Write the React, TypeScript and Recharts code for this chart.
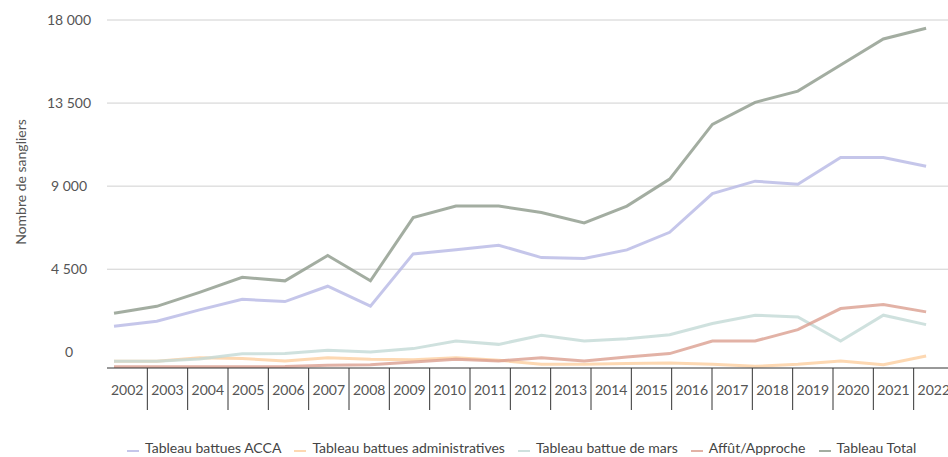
import React from 'react';
import { LineChart, Line, XAxis, YAxis, CartesianGrid } from 'recharts';

const yearLabels = [
  2002, 2003, 2004, 2005, 2006, 2007, 2008, 2009, 2010, 2011, 2012,
  2013, 2014, 2015, 2016, 2017, 2018, 2019, 2020, 2021, 2022,
];
const pointYears = [
  2002, 2003, 2004, 2005, 2006, 2007, 2008, 2009, 2010, 2011,
  2012, 2013, 2014, 2015, 2016, 2017, 2018, 2019, 2020, 2021,
];
const acca = [1410, 1680, 2300, 2870, 2750, 3580, 2500, 5330, 5550, 5800, 5130, 5080, 5550, 6500, 8600, 9270, 9100, 10550, 10550, 10080];
const admin = [-490, -490, -290, -340, -470, -290, -380, -400, -290, -430, -650, -650, -610, -580, -650, -760, -650, -470, -670, -200];
const mars = [-490, -490, -360, -80, -70, 110, 20, 200, 610, 430, 920, 610, 740, 950, 1560, 2010, 1910, 610, 2010, 1500];
const affut = [-780, -780, -780, -780, -770, -700, -670, -520, -380, -470, -290, -470, -250, -70, 610, 610, 1230, 2370, 2590, 2190];
const total = [2110, 2490, 3250, 4060, 3870, 5240, 3870, 7300, 7920, 7920, 7570, 7010, 7920, 9380, 12350, 13540, 14150, 15560, 16970, 17550];
const yTicks = [0, 4500, 9000, 13500, 18000];

const series = [
  { key: 'acca', name: 'Tableau battues ACCA', color: '#b6b8e5' },
  { key: 'admin', name: 'Tableau battues administratives', color: '#fcce9f' },
  { key: 'mars', name: 'Tableau battue de mars', color: '#c3dad6' },
  { key: 'affut', name: 'Affût/Approche', color: '#db9f90' },
  { key: 'total', name: 'Tableau Total', color: '#8c9889' },
];

const data = pointYears.map((year, i) => ({
  year,
  acca: acca[i],
  admin: admin[i],
  mars: mars[i],
  affut: affut[i],
  total: total[i],
}));

const FONT = 'Lato, sans-serif';
const CHART_W = 954;
const Y_AXIS_W = 107;
const CELL = (CHART_W - Y_AXIS_W) / yearLabels.length;

const fmt = (v: number) => v.toLocaleString('fr-FR').replace(/\u202f|\u00a0/g, ' ');

const YTick = (props: any) => {
  const { y, payload } = props;
  return (
    <text x={69} y={y} dy={5} textAnchor="middle" fill="#555" fontSize={14} fontFamily={FONT}>
      {fmt(payload.value)}
    </text>
  );
};

const XTick = (props: any) => {
  const { x, y, payload } = props;
  const first = payload.value === yearLabels[0];
  return (
    <g>
      <text x={x} y={y + 27} textAnchor="middle" fill="#555" fontSize={14} fontFamily={FONT}>
        {payload.value}
      </text>
      {!first && <line x1={x - CELL / 2} x2={x - CELL / 2} y1={y} y2={y + 42} stroke="#333" strokeWidth={1} />}
    </g>
  );
};

export default function App() {
  return (
    <div style={{ position: 'absolute', left: 0, top: 0, width: 948, height: 457, overflow: 'hidden', background: '#fff', fontFamily: FONT }}>
      <LineChart width={CHART_W} height={457} data={data} margin={{ top: 20, right: 0, bottom: 0, left: 0 }}>
        <CartesianGrid vertical={false} horizontalValues={[4500, 9000, 13500, 18000]} stroke="#d0d0d0" />
        <XAxis
          xAxisId="cells"
          type="number"
          dataKey="year"
          domain={[yearLabels[0] - 0.5, yearLabels[yearLabels.length - 1] + 0.5]}
          allowDataOverflow
          ticks={yearLabels}
          interval={0}
          height={89}
          tickLine={false}
          tickSize={0}
          tickMargin={0}
          axisLine={{ stroke: '#333' }}
          tick={<XTick />}
        />
        <XAxis xAxisId="pts" type="number" dataKey="year" domain={[2001.836, 2021.653]} allowDataOverflow hide />
        <YAxis
          width={Y_AXIS_W}
          domain={[-850, 18000]}
          ticks={yTicks}
          allowDataOverflow
          axisLine={false}
          tickLine={false}
          tick={<YTick />}
          label={{
            content: () => (
              <text x={26} y={182} transform="rotate(-90 26 182)" textAnchor="middle" fill="#555" fontSize={14} fontFamily={FONT}>
                Nombre de sangliers
              </text>
            ),
          }}
        />
        {series.map((s) => (
          <Line
            key={s.key}
            xAxisId="pts"
            type="linear"
            dataKey={s.key}
            name={s.name}
            stroke={s.color}
            strokeOpacity={0.8}
            strokeWidth={3}
            dot={false}
            activeDot={false}
            isAnimationActive={false}
          />
        ))}
      </LineChart>
      <div style={{ position: 'absolute', left: 127, top: 439, display: 'flex', alignItems: 'flex-end', whiteSpace: 'nowrap', fontSize: 14, color: '#444', lineHeight: '17px' }}>
        {series.map((s) => (
          <span key={s.key} style={{ display: 'inline-flex', alignItems: 'flex-end', marginRight: 13 }}>
            <span style={{ display: 'inline-block', width: 12, height: 2, background: s.color, opacity: 0.8, marginRight: 6, marginBottom: 4 }} />
            <span>{s.name}</span>
          </span>
        ))}
      </div>
    </div>
  );
}
